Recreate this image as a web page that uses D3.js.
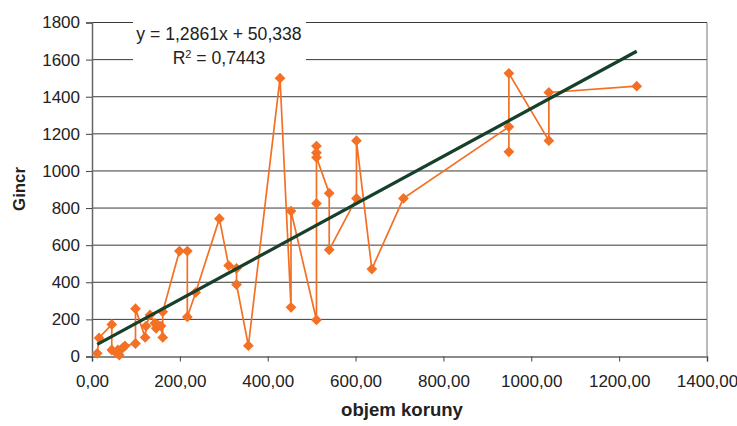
<!DOCTYPE html>
<html>
<head>
<meta charset="utf-8">
<script src="https://cdn.jsdelivr.net/npm/d3@7"></script>
<style>
  html, body { margin: 0; padding: 0; background: #fff; }
  svg { display: block; font-family: "Liberation Sans", Arial, sans-serif; }
</style>
</head>
<body>
<svg id="chart" width="737" height="426"></svg>
<script>
// Crown volume vs. Gincr, measured pairs (in recorded order)
const crownVolume = [
  12, 16, 45, 45, 55, 59, 62, 70, 75, 99, 99, 121, 123, 132, 143, 146, 150, 157, 161, 161,
  199, 217, 217, 236, 290, 311, 329, 329, 356, 428, 453, 453,
  511, 511, 511, 511, 511, 540, 540, 602, 602, 637, 709,
  949, 949, 949, 1040, 1040, 1240
];
const gincr = [
  17, 100, 173, 35, 20, 35, 8, 47, 57, 70, 258, 103, 164, 224, 179, 152, 170, 164, 103, 241,
  568, 568, 213, 345, 743, 490, 475, 388, 58, 1500, 265, 784,
  197, 825, 1134, 1098, 1073, 880, 575, 852, 1163, 471, 852,
  1238, 1103, 1526, 1163, 1423, 1457
];

// Linear trend fitted to the series
const trendSlope = 1.2861;
const trendIntercept = 50.338;
const trendLabel = "y = 1,2861x + 50,338";
const r2Label = "0,7443";

const xTicks = [0, 200, 400, 600, 800, 1000, 1200, 1400];
const yTicks = [0, 200, 400, 600, 800, 1000, 1200, 1400, 1600, 1800];
const xTitle = "objem koruny";
const yTitle = "Gincr";

const svg = d3.select("#chart");
const plotL = 92, plotR = 707, plotT = 22.5, plotB = 356.5;

const x = d3.scaleLinear().domain([0, 1400]).range([plotL, plotR]);
const y = d3.scaleLinear().domain([0, 1800]).range([plotB, plotT]);

const fmtX = v => d3.format(".2f")(v).replace(".", ",");

// horizontal gridlines
svg.append("g").selectAll("line").data(yTicks.slice(1)).join("line")
  .attr("x1", plotL).attr("x2", plotR)
  .attr("y1", d => y(d)).attr("y2", d => y(d))
  .attr("stroke", "#3a3a3a").attr("stroke-width", 1);

// right border of plot area
svg.append("line")
  .attr("x1", plotR).attr("x2", plotR).attr("y1", plotT).attr("y2", plotB)
  .attr("stroke", "#777").attr("stroke-width", 1);

// Y axis
const yAxis = svg.append("g")
  .attr("transform", `translate(${plotL},0)`)
  .call(d3.axisLeft(y).tickValues(yTicks).tickSize(6).tickPadding(6).tickFormat(d3.format("d")));
yAxis.select(".domain").attr("stroke", "#666").attr("stroke-width", 1.5);
yAxis.selectAll(".tick line").attr("stroke", "#444");
yAxis.selectAll("text").attr("font-size", 17).attr("fill", "#222")
  .attr("font-family", "Liberation Sans, Arial, sans-serif");

// X axis
const xAxis = svg.append("g")
  .attr("transform", `translate(0,${plotB})`)
  .call(d3.axisBottom(x).tickValues(xTicks).tickSize(5).tickPadding(13).tickFormat(fmtX));
xAxis.select(".domain").attr("stroke", "#666").attr("stroke-width", 1.5);
xAxis.selectAll(".tick line").attr("stroke", "#444");
xAxis.selectAll("text").attr("font-size", 17).attr("fill", "#222")
  .attr("font-family", "Liberation Sans, Arial, sans-serif");

// series line (in recorded order)
const pts = crownVolume.map((v, i) => [v, gincr[i]]);
const orange = "#f37024";
svg.append("path")
  .datum(pts)
  .attr("fill", "none")
  .attr("stroke", orange)
  .attr("stroke-width", 1.7)
  .attr("d", d3.line().x(d => x(d[0])).y(d => y(d[1])));

// diamond markers
const diamond = d3.symbol().type(d3.symbolDiamond2).size(74);
svg.append("g").selectAll("path").data(pts).join("path")
  .attr("transform", d => `translate(${x(d[0])},${y(d[1])})`)
  .attr("d", diamond)
  .attr("fill", orange);

// linear trendline over the data range
const xMin = d3.min(crownVolume), xMax = d3.max(crownVolume);
svg.append("line")
  .attr("x1", x(xMin)).attr("y1", y(trendSlope * xMin + trendIntercept))
  .attr("x2", x(xMax)).attr("y2", y(trendSlope * xMax + trendIntercept))
  .attr("stroke", "#17402a").attr("stroke-width", 3.2);

// trendline equation box
svg.append("rect")
  .attr("x", 133).attr("y", 20).attr("width", 173).attr("height", 50)
  .attr("fill", "#fff");
svg.append("text")
  .attr("x", 219).attr("y", 40)
  .attr("text-anchor", "middle").attr("font-size", 17.6).attr("fill", "#222")
  .text(trendLabel);
const r2 = svg.append("text")
  .attr("x", 219).attr("y", 64)
  .attr("text-anchor", "middle").attr("font-size", 17.6).attr("fill", "#222");
r2.append("tspan").text("R");
r2.append("tspan").attr("dy", -6).attr("font-size", 11).text("2");
r2.append("tspan").attr("dy", 6).text(" = " + r2Label);

// axis titles
svg.append("text")
  .attr("transform", "translate(25,189) rotate(-90)")
  .attr("text-anchor", "middle").attr("font-size", 16.8).attr("font-weight", "bold")
  .attr("fill", "#222")
  .text(yTitle);
svg.append("text")
  .attr("x", 402).attr("y", 416)
  .attr("text-anchor", "middle").attr("font-size", 18.6).attr("font-weight", "bold")
  .attr("fill", "#222")
  .text(xTitle);
</script>
</body>
</html>
